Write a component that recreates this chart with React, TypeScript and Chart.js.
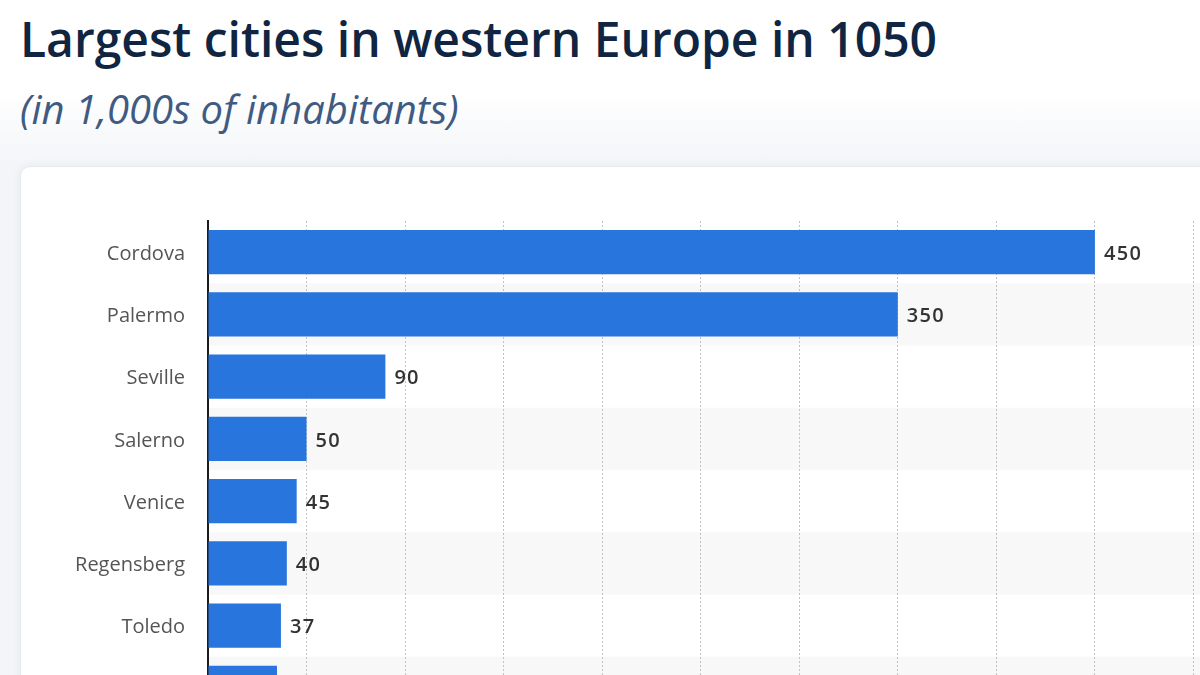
import React, { useEffect, useRef } from "react";
import { Chart, registerables } from "chart.js";

Chart.register(...registerables);

const cities = ["Cordova", "Palermo", "Seville", "Salerno", "Venice", "Regensberg", "Toledo", "Rome"];
const inhabitants = [450, 350, 90, 50, 45, 40, 37, 35];

const titleText = "Largest cities in western Europe in 1050";
const subtitleText = "(in 1,000s of inhabitants)";

const FONT = "'Open Sans', 'Noto Sans', sans-serif";

// alternating light row stripes behind the bars
const rowBands = {
  id: "rowBands",
  beforeDraw(chart: any) {
    const { ctx, chartArea } = chart;
    const y = chart.scales.y;
    const n = chart.data.labels.length;
    const step = (chartArea.bottom - chartArea.top) / n;
    ctx.save();
    ctx.fillStyle = "#f8f8f8";
    for (let i = 0; i < n; i++) {
      if (i % 2 === 1) {
        const cy = y.getPixelForValue(i);
        ctx.fillRect(chartArea.left, cy - step / 2, chart.width - chartArea.left, step);
      }
    }
    ctx.restore();
  },
};

// value printed at the end of each bar
const valueLabels = {
  id: "valueLabels",
  afterDatasetsDraw(chart: any) {
    const { ctx } = chart;
    const meta = chart.getDatasetMeta(0);
    const data = chart.data.datasets[0].data;
    ctx.save();
    ctx.font = `600 20px ${FONT}`;
    ctx.fillStyle = "#333333";
    ctx.textAlign = "left";
    ctx.textBaseline = "middle";
    try { (ctx as any).letterSpacing = "1.3px"; } catch (e) {}
    meta.data.forEach((bar: any, i: number) => {
      ctx.fillText(String(data[i]), bar.x + 9, bar.y + 2);
    });
    ctx.restore();
  },
};

export default function App() {
  const canvasRef = useRef<HTMLCanvasElement | null>(null);

  useEffect(() => {
    if (!canvasRef.current) return;
    const chart = new Chart(canvasRef.current, {
      type: "bar",
      data: {
        labels: cities,
        datasets: [
          {
            data: inhabitants,
            backgroundColor: "#2876dd",
            borderWidth: 0,
            barPercentage: 0.71,
            categoryPercentage: 1,
          },
        ],
      },
      options: {
        indexAxis: "y",
        responsive: false,
        animation: false,
        layout: { padding: { top: 54, left: 0, right: 0, bottom: 0 } },
        plugins: {
          legend: { display: false },
          tooltip: { enabled: false },
        },
        scales: {
          x: {
            min: 0,
            max: 550,
            ticks: { display: false, stepSize: 50 },
            grid: {
              color: "#c2c2c2",
              lineWidth: 1,
              drawTicks: false,
            },
            border: { display: false, dash: [2, 2] },
          },
          y: {
            afterFit(scale: any) {
              scale.width = 208;
            },
            ticks: {
              padding: 23,
              labelOffset: 2,
              color: "#555555",
              font: { family: FONT, size: 20 },
            },
            grid: { display: false, drawTicks: false },
            border: { display: true, color: "#1c1c1c", width: 2 },
          },
        },
      },
      plugins: [rowBands, valueLabels],
    });
    return () => chart.destroy();
  }, []);

  return (
    <div
      style={{
        position: "fixed",
        inset: 0,
        overflow: "hidden",
        background: "linear-gradient(#ffffff 0px, #ffffff 90px, #f3f5f8 165px, #f3f5f8 100%)",
        fontFamily: FONT,
      }}
    >
      <div
        style={{
          position: "absolute",
          left: 20,
          top: 15,
          fontSize: 48,
          lineHeight: "48px",
          fontWeight: 600,
          color: "#0f2541",
          whiteSpace: "nowrap",
        }}
      >
        {titleText}
      </div>
      <div
        style={{
          position: "absolute",
          left: 20,
          top: 89,
          fontSize: 40,
          lineHeight: "40px",
          fontStyle: "italic",
          fontWeight: 400,
          color: "#3f5b82",
          whiteSpace: "nowrap",
        }}
      >
        {subtitleText}
      </div>
      <div
        style={{
          position: "absolute",
          left: 20,
          top: 166,
          width: 1300,
          height: 700,
          background: "#ffffff",
          borderRadius: 10,
          border: "1px solid #e6e9ee",
          boxShadow: "0 0 10px rgba(30,50,80,0.06)",
        }}
      />
      <canvas
        ref={canvasRef}
        width={1292}
        height={587}
        style={{ position: "absolute", left: 0, top: 167, display: "block" }}
      />
    </div>
  );
}
